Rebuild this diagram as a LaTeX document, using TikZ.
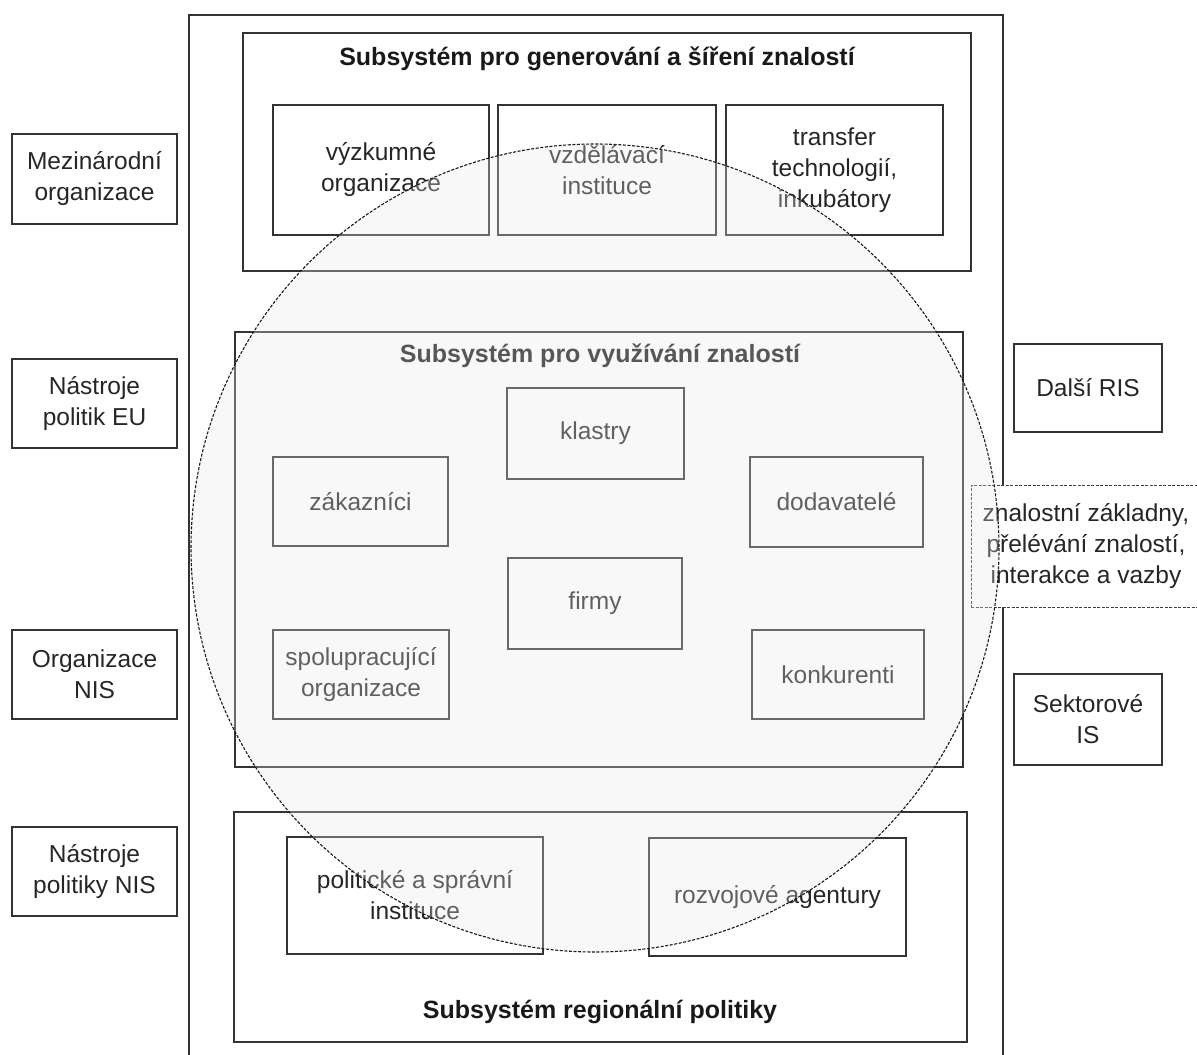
\documentclass[tikz,border=0pt]{standalone}
\usepackage{fontspec}
\setmainfont{Liberation Sans}
\begin{document}
\begin{tikzpicture}[x=1pt, y=-1pt,
    box/.style={draw=black!80, line width=1.3pt, align=center, inner sep=0pt,
        font=\fontsize{24.5}{31}\selectfont, text=black!85},
    frame/.style={draw=black!80, line width=1.3pt, inner sep=0pt},
    heading/.style={font=\bfseries\fontsize{25}{30}\selectfont, text=black!90},
    sharebox/.style={box, draw=black!75, line width=1pt, dash pattern=on 3pt off 1.5pt, fill=white},
    ris/.style={draw=black!90, line width=1.1pt, dash pattern=on 3pt off 1.6pt,
        fill=black!9, fill opacity=0.3}]

                \path[use as bounding box, clip] (0,0) rectangle (1197,1055);

                % main frame and the three subsystems
                \node[frame, minimum width=814, minimum height=1045] (main) at (596, 537.5) {};
                \node[frame, minimum width=728, minimum height=238] (gen) at (607, 152) {};
                \node[frame, minimum width=728, minimum height=435] (use) at (599, 549.5) {};
                \node[frame, minimum width=733, minimum height=230] (reg) at (600.5, 927) {};

                \node[heading] (gentitle) at (597, 59) {Subsystém pro generování a šíření znalostí};
                \node[heading] (usetitle) at (600, 356) {Subsystém pro využívání znalostí};
                \node[heading] (regtitle) at (600, 1012) {Subsystém regionální politiky};

                % generovani
                \node[box, minimum width=216, minimum height=130] (vyzkum) at (381, 170) {výzkumné\\organizace};
                \node[box, minimum width=218, minimum height=130] (vzdel) at (607, 170) {vzdělávací\\instituce};
                \node[box, minimum width=217, minimum height=130] (transfer) at (834.5, 170) {transfer\\technologií,\\inkubátory};

                % vyuzivani
                \node[box, minimum width=177, minimum height=91] (klastry) at (595.5, 433.5) {klastry};
                \node[box, minimum width=175, minimum height=89] (zakaz) at (360.5, 501.5) {zákazníci};
                \node[box, minimum width=173, minimum height=90] (dodav) at (836.5, 502) {dodavatelé};
                \node[box, minimum width=174, minimum height=91] (firmy) at (595, 603.5) {firmy};
                \node[box, minimum width=176, minimum height=89] (spolu) at (361, 674.5) {spolupracující\\organizace};
                \node[box, minimum width=172, minimum height=89] (konkur) at (838, 674.5) {konkurenti};

                % regionalni politika
                \node[box, minimum width=256, minimum height=117] (polit) at (415, 895.5) {politické a správní\\instituce};
                \node[box, minimum width=257, minimum height=118] (rozvoj) at (777.5, 897) {rozvojové agentury};

                % okoli vlevo
                \node[box, minimum width=165, minimum height=90] (mezinar) at (94.5, 179) {Mezinárodní\\organizace};
                \node[box, minimum width=165, minimum height=89] (nastreu) at (94.5, 403.5) {Nástroje\\politik EU};
                \node[box, minimum width=165, minimum height=89] (orgnis) at (94.5, 674.5) {Organizace\\NIS};
                \node[box, minimum width=165, minimum height=89] (nastrnis) at (94.5, 871.5) {Nástroje\\politiky NIS};

                % okoli vpravo
                \node[box, minimum width=148, minimum height=88] (dalsi) at (1088, 388) {Další RIS};
                \node[box, minimum width=148, minimum height=91] (sektor) at (1088, 719.5) {Sektorové\\IS};
                \node[sharebox, minimum width=230, minimum height=122] (znalost) at (1086, 546)
                    {znalostní základny,\\přelévání znalostí,\\interakce a vazby};

                % RIS circle over everything
                \draw[ris] (595, 548) circle (404);

\end{tikzpicture}
\end{document}
